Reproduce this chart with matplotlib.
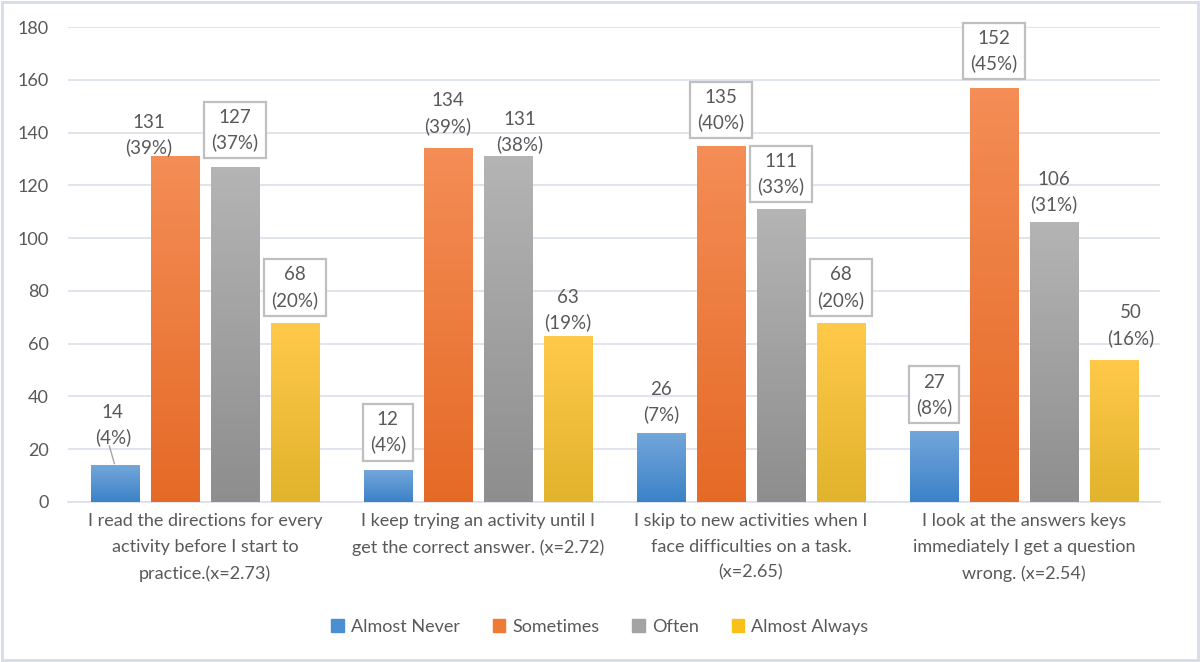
import matplotlib.pyplot as plt
import matplotlib.colors as mcolors
import numpy as np

categories = [
    "I read the directions for every\nactivity before I start to\npractice.(x=2.73)",
    "I keep trying an activity until I\nget the correct answer. (x=2.72)",
    "I skip to new activities when I\nface difficulties on a task.\n(x=2.65)",
    "I look at the answers keys\nimmediately I get a question\nwrong. (x=2.54)",
]
series = ["Almost Never", "Sometimes", "Often", "Almost Always"]

# bar heights as drawn
heights = {
    "Almost Never": [14, 12, 26, 27],
    "Sometimes": [131, 134, 135, 157],
    "Often": [127, 131, 111, 106],
    "Almost Always": [68, 63, 68, 54],
}
# label texts as printed
counts = {
    "Almost Never": [14, 12, 26, 27],
    "Sometimes": [131, 134, 135, 152],
    "Often": [127, 131, 111, 106],
    "Almost Always": [68, 63, 68, 50],
}
percents = {
    "Almost Never": [4, 4, 7, 8],
    "Sometimes": [39, 39, 40, 45],
    "Often": [37, 38, 33, 31],
    "Almost Always": [20, 19, 20, 16],
}
boxed = {
    "Almost Never": [False, True, False, True],
    "Sometimes": [False, False, True, True],
    "Often": [True, False, True, False],
    "Almost Always": [True, False, True, False],
}
# label offsets in pixels (dx, dy of text centre from bar top centre)
offsets = {
    "Almost Never": [(-2, 40), (0, 38), (0, 31), (0, 36)],
    "Sometimes": [(-26, 21), (0, 35), (0, 36), (0, 37)],
    "Often": [(0, 37), (12, 24), (0, 35), (0, 30)],
    "Almost Always": [(0, 35), (0, 26), (0, 35), (17, 34)],
}

grad = {
    "Almost Never": ("#73a6da", "#3c82c8"),
    "Sometimes": ("#f48d56", "#e56a26"),
    "Often": ("#b4b4b4", "#8e8e8e"),
    "Almost Always": ("#ffc94a", "#e2b32c"),
}
legend_col = {
    "Almost Never": "#4a8fd0",
    "Sometimes": "#ee7a35",
    "Often": "#a3a3a3",
    "Almost Always": "#f9c01a",
}

txt = "#595959"
plt.rcParams['font.family'] = ['Lato', 'DejaVu Sans']

fig = plt.figure(figsize=(12, 6.62), dpi=100)
ax = fig.add_axes([0.057, 0.2417, 0.91, 0.7173])

x = np.arange(len(categories))
width = 0.176
pitch = 0.22

for i, s in enumerate(series):
    pos = x + (i - 1.5) * pitch
    bars = ax.bar(pos, heights[s], width, color=legend_col[s], label=s, zorder=2)
    cmap = mcolors.LinearSegmentedColormap.from_list(s, [grad[s][1], grad[s][0]])
    for b in bars:
        x0, y0 = b.get_x(), b.get_y()
        w, h = b.get_width(), b.get_height()
        im = ax.imshow(np.linspace(0, 1, 64).reshape(-1, 1), cmap=cmap, aspect='auto',
                       origin='lower', extent=[x0, x0 + w, y0, y0 + h], zorder=3)
        im.set_clip_path(b)
    for j, b in enumerate(bars):
        dx, dy = offsets[s][j]
        bx = b.get_x() + b.get_width() / 2
        by = b.get_height()
        bbox = None
        if boxed[s][j]:
            bbox = dict(boxstyle='square,pad=0.38', fc='white', ec='#bfbfbf', lw=1.6)
        label = f"{counts[s][j]}\n({percents[s][j]}%)"
        ax.annotate(label, xy=(bx, by), xytext=(dx * 0.72, dy * 0.72),
                    textcoords='offset points', ha='center', va='center',
                    fontsize=13.5, color=txt, bbox=bbox, linespacing=1.5, zorder=5)
        if s == "Almost Never" and j == 0:
            ax.annotate("", xy=(bx, by), xytext=(-4, 14), textcoords='offset points',
                        arrowprops=dict(arrowstyle='-', color='#a6a6a6', lw=1,
                                        shrinkA=0, shrinkB=1), zorder=4)

ax.set_xlim(-0.5, 3.5)
ax.set_ylim(0, 180)
ax.set_yticks(np.arange(0, 181, 20))
ax.set_xticks(x)
ax.set_xticklabels(categories, fontsize=13, color=txt, linespacing=1.75)
ax.tick_params(axis='y', labelsize=13, colors=txt, length=0, pad=14)
ax.tick_params(axis='x', length=0, pad=8)
ax.grid(axis='y', color='#d9dfea', lw=1.2, zorder=0)
ax.set_axisbelow(True)
for sp in ['top', 'right', 'left']:
    ax.spines[sp].set_visible(False)
ax.spines['bottom'].set_color('#d9dfea')
ax.spines['bottom'].set_linewidth(1.2)

leg = fig.legend(loc='center', bbox_to_anchor=(0.5, 0.053), ncol=4, frameon=False,
                 fontsize=13, handlelength=0.7, handleheight=0.7,
                 handletextpad=0.4, columnspacing=1.8)
for t in leg.get_texts():
    t.set_color(txt)
for h, s in zip(leg.legend_handles, series):
    h.set_color(legend_col[s])

fig.patches.append(plt.Rectangle((0.002, 0.003), 0.996, 0.994, transform=fig.transFigure,
                                 fill=False, ec='#d6dce6', lw=2))

fig.savefig("out.png", dpi=100)
